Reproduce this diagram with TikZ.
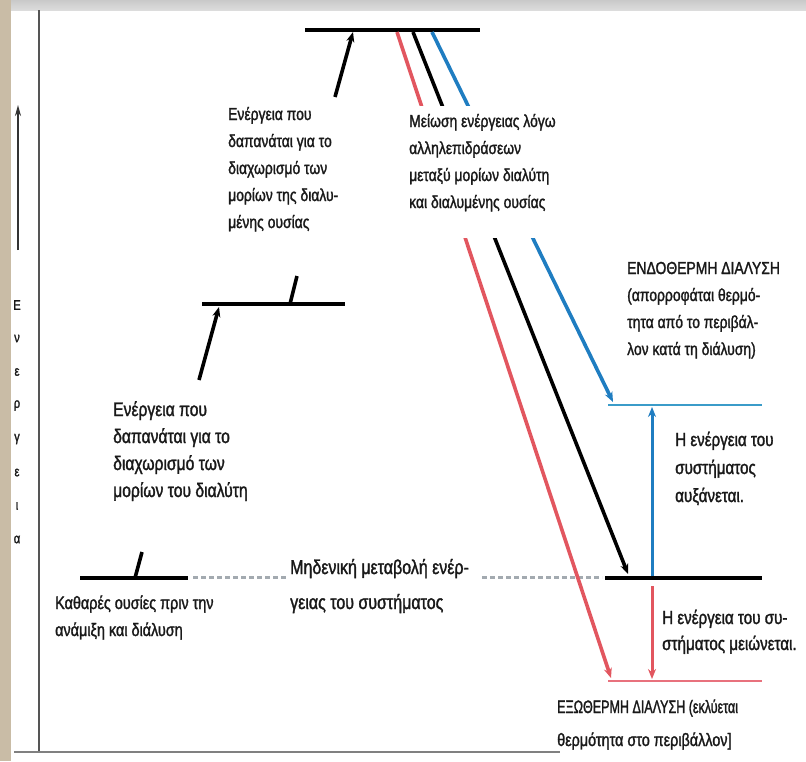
\documentclass[tikz,border=0pt]{standalone}
\usepackage{fontspec}
\setmainfont[FakeStretch=0.8,FakeBold=1.5]{Liberation Sans}
\usetikzlibrary{arrows.meta}
\definecolor{beige}{HTML}{C9BCA6}
\definecolor{topgray}{HTML}{DCDCDC}
\definecolor{axisgray}{HTML}{555555}
\definecolor{myred}{HTML}{E2565F}
\definecolor{myblue}{HTML}{1F7DC1}
\definecolor{lvlblue}{HTML}{3B9CC9}
\definecolor{lvlred}{HTML}{E8717D}
\definecolor{dashgray}{HTML}{A3AAB0}
\tikzset{
  level/.style={line width=4pt},
  thinlevel/.style={line width=2pt},
  bigarrow/.style={line width=3.6pt,-{Stealth[length=10pt,width=8pt]}},
  piece/.style={line width=3.6pt},
  lbl/.style={inner sep=0pt,align=left,anchor=base west,text=black!90},
  zerodash/.style={dashgray,line width=3pt,dash pattern=on 5pt off 3pt},
}
\begin{document}
\begin{tikzpicture}[x=1pt,y=-1pt]
\useasboundingbox (0,0) rectangle (806,761);
\fill[white] (0,0) rectangle (806,761);
\shade[top color=topgray!80!gray,bottom color=topgray] (0,0) rectangle (806,10);
\fill[beige] (0,0) rectangle (11,761);
% axis frame
\draw[axisgray,line width=1.6pt] (39,10) -- (39,752);
\draw[gray,line width=1.2pt] (14,752) -- (560,752);
% energy axis
\coordinate (ax0) at (18,250);
\coordinate (ax1) at (18,105);
\draw[black!80,line width=1.5pt,-{Stealth[length=11pt,width=6pt]}] (ax0) -- (ax1);
\foreach \l [count=\i from 0] in {Ε,ν,ε,ρ,γ,ε,ι,α}
  \node[inner sep=0pt,text=black!90,font=\fontsize{14}{14}\selectfont] (ax\i) at (17,{305+33.5*\i}) {\l};
% levels
\coordinate (topL) at (305,30); \coordinate (topR) at (480,30);
\coordinate (midL) at (202,304); \coordinate (midR) at (345,304);
\coordinate (pureL) at (80,578); \coordinate (pureR) at (188,578);
\coordinate (solL) at (605,578); \coordinate (solR) at (762,578);
\coordinate (endoL) at (608,405); \coordinate (endoR) at (762,405);
\coordinate (exoL) at (608,681); \coordinate (exoR) at (762,681);
\draw[level] (topL) -- (topR);
\draw[level] (midL) -- (midR);
\draw[level] (pureL) -- (pureR);
\draw[level] (solL) -- (solR);
\draw[thinlevel,lvlblue] (endoL) -- (endoR);
\draw[thinlevel,lvlred] (exoL) -- (exoR);
% zero change dashes
\coordinate (dz1) at (193,577); \coordinate (dz2) at (286,577);
\coordinate (dz3) at (482,577); \coordinate (dz4) at (602,577);
\draw[zerodash] (dz1) -- (dz2);
\draw[zerodash] (dz3) -- (dz4);
% long arrows from top level
\coordinate (rS) at (397,32); \coordinate (rE) at (611,678);
\coordinate (kS) at (413,32); \coordinate (kE) at (628,574);
\coordinate (bS) at (432,32); \coordinate (bE) at (613,402);
\draw[bigarrow,myred] (rS) -- (rE);
\draw[bigarrow,black] (kS) -- (kE);
\draw[bigarrow,myblue] (bS) -- (bE);
% gap in the arrows behind the text
\fill[white] (404,106) rectangle (562,238);
% vertical arrows on the right
\coordinate (vb0) at (652,576); \coordinate (vb1) at (652,407);
\coordinate (vr0) at (652,586); \coordinate (vr1) at (652,679);
\draw[bigarrow,myblue,line width=3pt] (vb0) -- (vb1);
\draw[bigarrow,myred,line width=3pt] (vr0) -- (vr1);
% broken upward arrows
\coordinate (p1a) at (135,578); \coordinate (p1b) at (142,552);
\coordinate (p2a) at (199,380); \coordinate (p2b) at (219,307);
\draw[piece] (p1a) -- (p1b);
\draw[bigarrow] (p2a) -- (p2b);
\coordinate (q1a) at (290,304); \coordinate (q1b) at (297,276);
\coordinate (q2a) at (335,97); \coordinate (q2b) at (353,32);
\draw[piece] (q1a) -- (q1b);
\draw[bigarrow] (q2a) -- (q2b);
% texts (anchored at the baseline of their last line)
\node[lbl,font=\fontsize{17.4}{27}\selectfont] (tSolute) at (228,228)
  {Ενέργεια που\\δαπανάται για το\\διαχωρισμό των\\μορίων της διαλυ-\\μένης ουσίας};
\node[lbl,font=\fontsize{17.4}{27}\selectfont] (tInter) at (409,208)
  {Μείωση ενέργειας λόγω\\αλληλεπιδράσεων\\μεταξύ μορίων διαλύτη\\και διαλυμένης ουσίας};
\node[lbl,font=\fontsize{17.4}{27}\selectfont] (tEndo) at (627,355)
  {ΕΝΔΟΘΕΡΜΗ ΔΙΑΛΥΣΗ\\(απορροφάται θερμό-\\τητα από το περιβάλ-\\λον κατά τη διάλυση)};
\node[lbl,font=\fontsize{19.6}{27}\selectfont] (tSolvent) at (113,497)
  {Ενέργεια που\\δαπανάται για το\\διαχωρισμό των\\μορίων του διαλύτη};
\node[lbl,font=\fontsize{19}{28}\selectfont] (tUp) at (675,502)
  {Η ενέργεια του\\συστήματος\\αυξάνεται.};
\node[lbl,font=\fontsize{18}{27}\selectfont] (tPure) at (55,636)
  {Καθαρές ουσίες πριν την\\ανάμιξη και διάλυση};
\node[lbl,font=\fontsize{20}{35}\selectfont] (tZero) at (290,609)
  {Μηδενική μεταβολή ενέρ-\\γειας του συστήματος};
\node[lbl,font=\fontsize{19}{26}\selectfont] (tDown) at (662,650)
  {Η ενέργεια του συ-\\στήματος μειώνεται.};
\node[lbl,font=\fontsize{18}{33}\selectfont] (tExo) at (557,746)
  {\scalebox{0.87}[1]{ΕΞΩΘΕΡΜΗ ΔΙΑΛΥΣΗ (εκλύεται}\\θερμότητα στο περιβάλλον]};
\end{tikzpicture}
\end{document}
